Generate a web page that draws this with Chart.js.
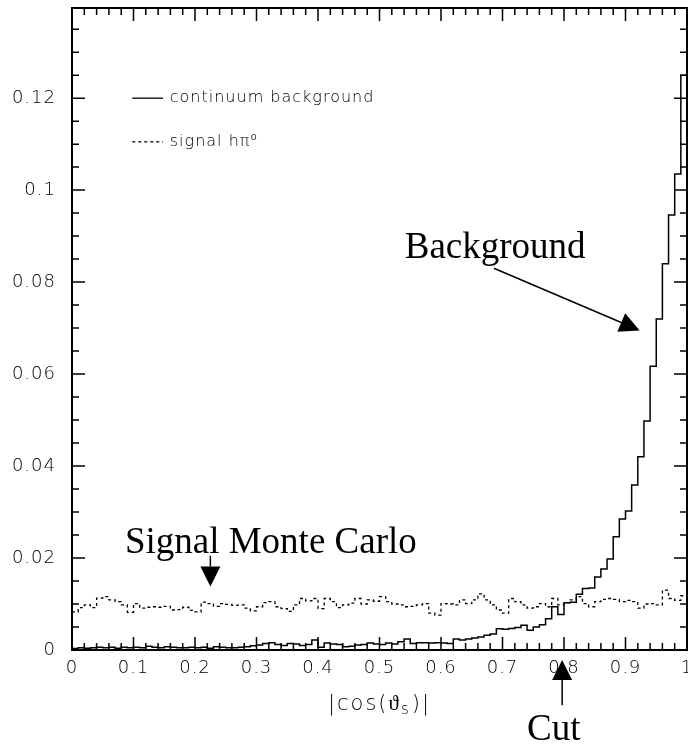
<!DOCTYPE html>
<html>
<head>
<meta charset="utf-8">
<script src="https://cdn.jsdelivr.net/npm/chart.js@4/dist/chart.umd.min.js"></script>
<style>
  body { margin: 0; background: #fff; }
  canvas { display: block; }
</style>
</head>
<body>
<canvas id="cos_theta" width="688" height="744"></canvas>
<script>
// |cos(theta_s)| shapes, 100 bins of width 0.01 between 0 and 1
var binWidth = 0.01;

var background = [
    0.0003, 0.0005, 0.0004, 0.0005, 0.0006, 0.0005, 0.0006, 0.0004, 0.0006, 0.0005,
    0.0006, 0.0005, 0.0008, 0.0006, 0.0005, 0.0007, 0.0006, 0.0005, 0.0005, 0.0006,
    0.0005, 0.0006, 0.0004, 0.0007, 0.0006, 0.0005, 0.0005, 0.0006, 0.0007, 0.0009,
    0.0011, 0.0014, 0.0016, 0.0012, 0.0010, 0.0014, 0.0013, 0.0010, 0.0012, 0.0022,
    0.0006, 0.0015, 0.0013, 0.0012, 0.0007, 0.0008, 0.0011, 0.0012, 0.0015, 0.0013,
    0.0012, 0.0015, 0.0013, 0.0018, 0.0024, 0.0014, 0.0016, 0.0016, 0.0015, 0.0016,
    0.0015, 0.0014, 0.0024, 0.0022, 0.0024, 0.0026, 0.0028, 0.0032, 0.0035, 0.0046,
    0.0045, 0.0047, 0.0049, 0.0054, 0.0043, 0.0050, 0.0055, 0.0068, 0.0094, 0.0077,
    0.0103, 0.0104, 0.0121, 0.0134, 0.0135, 0.0159, 0.0176, 0.0198, 0.0246, 0.0285,
    0.0302, 0.0359, 0.0420, 0.0498, 0.0617, 0.0720, 0.0840, 0.0946, 0.1035, 0.1250
];

var signal = [
    0.0083, 0.0092, 0.0098, 0.0092, 0.0113, 0.0116, 0.0109, 0.0105, 0.0098, 0.0082,
    0.0101, 0.0091, 0.0093, 0.0094, 0.0093, 0.0095, 0.0087, 0.0088, 0.0093, 0.0086,
    0.0083, 0.0104, 0.0101, 0.0095, 0.0101, 0.0099, 0.0097, 0.0098, 0.0091, 0.0085,
    0.0094, 0.0103, 0.0105, 0.0094, 0.0090, 0.0084, 0.0098, 0.0112, 0.0107, 0.0112,
    0.0090, 0.0112, 0.0105, 0.0092, 0.0098, 0.0102, 0.0112, 0.0100, 0.0109, 0.0106,
    0.0116, 0.0105, 0.0100, 0.0098, 0.0094, 0.0095, 0.0098, 0.0101, 0.0080, 0.0076,
    0.0101, 0.0100, 0.0098, 0.0109, 0.0101, 0.0109, 0.0122, 0.0109, 0.0098, 0.0087,
    0.0080, 0.0112, 0.0105, 0.0098, 0.0091, 0.0094, 0.0101, 0.0094, 0.0112, 0.0098,
    0.0103, 0.0109, 0.0116, 0.0101, 0.0094, 0.0105, 0.0110, 0.0112, 0.0110, 0.0105,
    0.0108, 0.0105, 0.0091, 0.0100, 0.0101, 0.0098, 0.0130, 0.0112, 0.0108, 0.0118
];

var xTicks = [0, 0.1, 0.2, 0.3, 0.4, 0.5, 0.6, 0.7, 0.8, 0.9, 1];
var xTickLabels = ['0', '0.1', '0.2', '0.3', '0.4', '0.5', '0.6', '0.7', '0.8', '0.9', '1'];
var yTicks = [0, 0.02, 0.04, 0.06, 0.08, 0.1, 0.12];
var yTickLabels = ['0', '0.02', '0.04', '0.06', '0.08', '0.1', '0.12'];

// step histogram: one point per bin low edge, plus the closing edge at 1
function toSteps(values) {
    var pts = values.map(function (v, i) { return { x: i * binWidth, y: v }; });
    pts.push({ x: values.length * binWidth, y: values[values.length - 1] });
    return pts;
}

var tickFont = { family: 'DejaVu Sans', size: 18, weight: '200' };

// the axes take exactly the room they are given, no overhang padding
function fixBox(w, h) {
    return function (s) {
        if (w) s.width = w;
        if (h) s.height = h;
        s.paddingTop = s.paddingBottom = s.paddingLeft = s.paddingRight = 0;
    };
}

// wider tracking for the axis labels, like the old plotting font
var spacing = {
    id: 'spacing',
    beforeDraw: function (chart) { chart.ctx.letterSpacing = '1px'; },
    afterDraw: function (chart) { chart.ctx.letterSpacing = '0px'; }
};

// frame with inward ticks, legend, axis title and the arrows
var decorations = {
    id: 'decorations',
    afterDraw: function (chart, args, opts) {
        var ctx = chart.ctx;
        var a = chart.chartArea;
        var xs = chart.scales.x;
        var ys = chart.scales.y;
        var X = function (v) { return xs.getPixelForValue(v); };
        var Y = function (v) { return ys.getPixelForValue(v); };
        var i, p, len;

        ctx.save();
        ctx.strokeStyle = '#000';
        ctx.fillStyle = '#000';

        ctx.lineWidth = 1.5;
        ctx.beginPath();
        for (i = 0; i <= 50; i++) {
            p = X(i * 0.02);
            len = i % 5 === 0 ? 13 : 7;
            ctx.moveTo(p, a.bottom); ctx.lineTo(p, a.bottom - len);
            ctx.moveTo(p, a.top); ctx.lineTo(p, a.top + len);
        }
        for (i = 0; i <= 27; i++) {
            p = Y(i * 0.005);
            len = i % 4 === 0 ? 13 : 7;
            ctx.moveTo(a.left, p); ctx.lineTo(a.left + len, p);
            ctx.moveTo(a.right, p); ctx.lineTo(a.right - len, p);
        }
        ctx.stroke();

        ctx.lineWidth = 2;
        ctx.strokeRect(a.left, a.top, a.right - a.left, a.bottom - a.top);

        // legend inside the frame
        ctx.letterSpacing = '1px';
        ctx.font = '200 16px "DejaVu Sans"';
        ctx.textBaseline = 'middle';
        chart.data.datasets.forEach(function (ds, k) {
            var ly = Y(opts.legendY[k]);
            ctx.lineWidth = 1.3;
            ctx.setLineDash(ds.borderDash || []);
            ctx.beginPath();
            ctx.moveTo(X(opts.legendLine[0]), ly);
            ctx.lineTo(X(opts.legendLine[1]), ly);
            ctx.stroke();
            ctx.setLineDash([]);
            ctx.fillText(ds.label, X(opts.legendText), ly);
        });

        // x axis title |cos(theta_s)| with subscript s
        ctx.letterSpacing = '2px';
        ctx.textBaseline = 'alphabetic';
        var big = '200 21px "DejaVu Sans"';
        var small = '200 15px "DejaVu Sans"';
        ctx.font = big;
        var w1 = ctx.measureText('|cos(\u03d1').width;
        var w3 = ctx.measureText(')|').width;
        ctx.font = small;
        var w2 = ctx.measureText('s').width + 1;
        var tx = (a.left + a.right) / 2 - (w1 + w2 + w3) / 2;
        var ty = a.bottom + 60;
        ctx.font = big;
        ctx.fillText('|cos(\u03d1', tx, ty);
        ctx.font = small;
        ctx.fillText('s', tx + w1, ty + 4);
        ctx.font = big;
        ctx.fillText(')|', tx + w1 + w2, ty);

        // annotations
        ctx.letterSpacing = '0px';
        ctx.font = '37px "Liberation Serif", "Times New Roman", serif';
        opts.notes.forEach(function (n) {
            ctx.fillText(n.text, X(n.x), Y(n.y));
        });
        opts.arrows.forEach(function (ar) {
            var x0 = X(ar.from[0]), y0 = Y(ar.from[1]);
            var x1 = X(ar.to[0]), y1 = Y(ar.to[1]);
            var ang = Math.atan2(y1 - y0, x1 - x0);
            var hl = 20, hw = 10;
            var bx = x1 - hl * Math.cos(ang), by = y1 - hl * Math.sin(ang);
            ctx.lineWidth = 1.5;
            ctx.beginPath();
            ctx.moveTo(x0, y0);
            ctx.lineTo(bx, by);
            ctx.stroke();
            ctx.beginPath();
            ctx.moveTo(x1, y1);
            ctx.lineTo(bx - hw * Math.sin(ang), by + hw * Math.cos(ang));
            ctx.lineTo(bx + hw * Math.sin(ang), by - hw * Math.cos(ang));
            ctx.closePath();
            ctx.fill();
        });
        ctx.restore();
    }
};

var ctx = document.getElementById('cos_theta').getContext('2d');
var chart = new Chart(ctx, {
    type: 'line',
    data: {
        datasets: [{
            label: 'continuum background',
            data: toSteps(background),
            stepped: 'before',
            borderColor: '#000',
            borderWidth: 1.5,
            pointRadius: 0,
            fill: false
        }, {
            label: 'signal h\u03c0\u2070',
            data: toSteps(signal),
            stepped: 'before',
            borderColor: '#000',
            borderWidth: 1.3,
            borderDash: [3, 3],
            pointRadius: 0,
            fill: false
        }]
    },
    options: {
        responsive: false,
        animation: false,
        layout: { padding: { top: 8, right: 1, left: 0, bottom: 0 } },
        plugins: {
            legend: { display: false },
            tooltip: { enabled: false },
            decorations: {
                legendLine: [0.098, 0.148],
                legendText: 0.159,
                legendY: [0.12, 0.1105],
                notes: [
                    { text: 'Background', x: 0.541, y: 0.0852 },
                    { text: 'Signal Monte Carlo', x: 0.086, y: 0.0211 },
                    { text: 'Cut', x: 0.74, y: -0.0196 }
                ],
                arrows: [
                    { from: [0.686, 0.0830], to: [0.923, 0.0695] },
                    { from: [0.225, 0.0205], to: [0.225, 0.0138] },
                    { from: [0.797, -0.0120], to: [0.797, -0.0022] }
                ]
            }
        },
        scales: {
            x: {
                type: 'linear',
                min: 0,
                max: 1,
                afterBuildTicks: function (s) { s.ticks = xTicks.map(function (v) { return { value: v }; }); },
                afterFit: fixBox(0, 94),
                grid: { display: false, drawTicks: false },
                border: { display: false },
                ticks: {
                    autoSkip: false,
                    maxRotation: 0,
                    padding: 8,
                    color: '#000',
                    font: tickFont,
                    callback: function (v, i) { return xTickLabels[i]; }
                }
            },
            y: {
                min: 0,
                max: 0.1396,
                afterBuildTicks: function (s) { s.ticks = yTicks.map(function (v) { return { value: v }; }); },
                afterFit: fixBox(72, 0),
                grid: { display: false, drawTicks: false },
                border: { display: false },
                ticks: {
                    padding: 16,
                    color: '#000',
                    font: tickFont,
                    callback: function (v, i) { return yTickLabels[i]; }
                }
            }
        }
    },
    plugins: [spacing, decorations]
});
</script>
</body>
</html>
